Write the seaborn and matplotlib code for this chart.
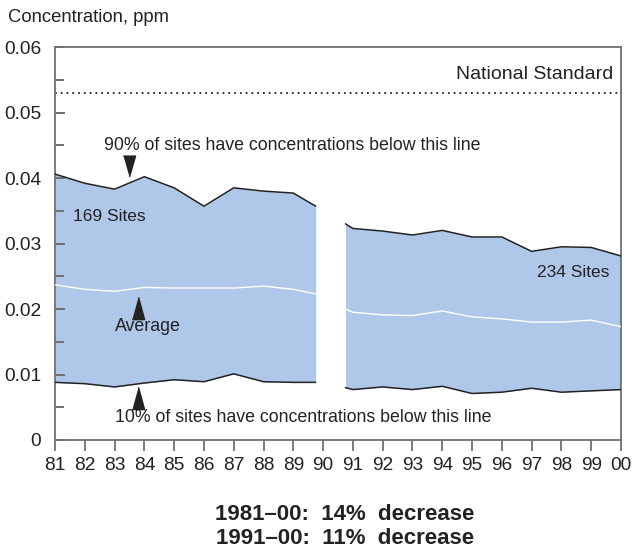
import matplotlib
matplotlib.use("Agg")
import matplotlib.pyplot as plt
import seaborn as sns
import pandas as pd

sns.set_theme(style="white")
plt.rcParams['font.family'] = ['Liberation Sans', 'DejaVu Sans']
plt.rcParams['axes.axisbelow'] = False

# Data
years_a = [81, 82, 83, 84, 85, 86, 87, 88, 89, 89.75]
p90_a = [0.0406, 0.0392, 0.0383, 0.0402, 0.0385, 0.0357, 0.0385, 0.0380, 0.0377, 0.0357]
avg_a = [0.0237, 0.0230, 0.0227, 0.0233, 0.0232, 0.0232, 0.0232, 0.0235, 0.0230, 0.0223]
p10_a = [0.0088, 0.0086, 0.0081, 0.0087, 0.0092, 0.0089, 0.0101, 0.0089, 0.0088, 0.0088]

years_b = [90.75, 91, 92, 93, 94, 95, 96, 97, 98, 99, 100]
p90_b = [0.0330, 0.0323, 0.0319, 0.0313, 0.0320, 0.0310, 0.0310, 0.0288, 0.0295, 0.0294, 0.0281]
avg_b = [0.0200, 0.0195, 0.0191, 0.0190, 0.0197, 0.0188, 0.0185, 0.0180, 0.0180, 0.0183, 0.0173]
p10_b = [0.0080, 0.0077, 0.0081, 0.0077, 0.0082, 0.0071, 0.0073, 0.0079, 0.0073, 0.0075, 0.0077]

national_standard = 0.053
tick_years = list(range(81, 101))
tick_labels = ['81', '82', '83', '84', '85', '86', '87', '88', '89', '90',
               '91', '92', '93', '94', '95', '96', '97', '98', '99', '00']
ytick_values = [0, 0.01, 0.02, 0.03, 0.04, 0.05, 0.06]
ytick_labels = ['0', '0.01', '0.02', '0.03', '0.04', '0.05', '0.06']
ytick_marks = [0.005, 0.01, 0.015, 0.02, 0.025, 0.03, 0.035, 0.04, 0.045, 0.05, 0.055]

fill_color = '#afc8e9'
line_color = '#222222'
spine_color = '#707070'
text_color = '#222222'

fig = plt.figure(figsize=(6.33, 5.5), dpi=100)
ax = fig.add_axes([0.0869, 0.2, 0.981 - 0.0869, 0.7145])

for yrs, p90, avg, p10 in [(years_a, p90_a, avg_a, p10_a), (years_b, p90_b, avg_b, p10_b)]:
    df = pd.DataFrame({'year': yrs, 'p90': p90, 'avg': avg, 'p10': p10})
    ax.fill_between(df['year'], df['p10'], df['p90'], color=fill_color, lw=0, zorder=1)
    sns.lineplot(data=df, x='year', y='p90', ax=ax, color=line_color, lw=1.1, zorder=3)
    sns.lineplot(data=df, x='year', y='p10', ax=ax, color=line_color, lw=1.1, zorder=3)
    sns.lineplot(data=df, x='year', y='avg', ax=ax, color='white', lw=1.0, zorder=3)

ax.axhline(national_standard, color=line_color, lw=1.3, ls=(0, (1, 2.2)), zorder=2)

ax.set_xlim(81, 100)
ax.set_ylim(0, 0.06)
ax.set_xlabel('')
ax.set_ylabel('')
ax.set_xticks(tick_years)
ax.set_xticklabels(tick_labels)
ax.set_yticks(ytick_values)
ax.set_yticklabels(ytick_labels)
ax.yaxis.remove_overlapping_locs = False
ax.set_yticks(ytick_marks, minor=True)
ax.tick_params(axis='y', which='both', direction='in', left=True, color=spine_color)
ax.tick_params(axis='y', which='major', length=7, width=1.4,
               labelsize=13.8, labelcolor=text_color, pad=10)
ax.tick_params(axis='y', which='minor', length=6.5, width=1.4)
ax.tick_params(axis='x', direction='out', length=8, width=1.3, color=spine_color,
               labelsize=13.8, labelcolor=text_color, pad=4, bottom=True)
for s in ax.spines.values():
    s.set_color(spine_color)
    s.set_linewidth(1.3)

fig.text(8 / 633, 1 - 18 / 550, 'Concentration, ppm', fontsize=13.3, color=text_color,
         ha='left', va='center')

tri_down = [(-0.58, 1), (0.58, 1), (0, -1)]
tri_up = [(-0.55, -1), (0.55, -1), (0, 1)]

ax.text(99.75, 0.0545, 'National Standard', fontsize=14, color=text_color, ha='right', va='bottom')
ax.text(82.65, 0.045, '90% of sites have concentrations below this line', fontsize=12.8,
        color=text_color, ha='left', va='center')
ax.plot([83.5], [0.0419], marker=tri_down, ms=15, color=line_color, lw=0, zorder=4)
ax.text(81.6, 0.0342, '169 Sites', fontsize=12.5, color=text_color, ha='left', va='center')
ax.text(99.6, 0.0255, '234 Sites', fontsize=12.5, color=text_color, ha='right', va='center')
ax.text(83.0, 0.0173, 'Average', fontsize=12.8, color=text_color, ha='left', va='center')
ax.plot([83.8], [0.0202], marker=tri_up, ms=16, color=line_color, lw=0, zorder=4)
ax.plot([83.8], [0.0064], marker=tri_up, ms=16, color=line_color, lw=0, zorder=4)
ax.text(83.0, 0.0034, '10% of sites have concentrations below this line', fontsize=12.8,
        color=text_color, ha='left', va='center')

bold_font = ['Liberation Sans Narrow', 'Liberation Sans', 'DejaVu Sans']
fig.text(345 / 633, 1 - 514 / 550, '1981\u201300:  14%  decrease', fontsize=16, fontweight='bold',
         family=bold_font, color=text_color, ha='center', va='center')
fig.text(345 / 633, 1 - 539 / 550, '1991\u201300:  11%  decrease', fontsize=16, fontweight='bold',
         family=bold_font, color=text_color, ha='center', va='center')

fig.savefig('out.png', dpi=100)
